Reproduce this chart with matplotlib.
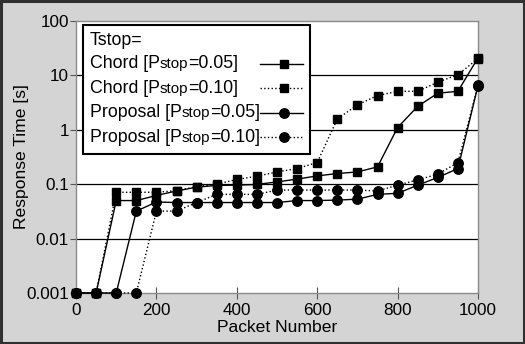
import matplotlib
matplotlib.use("Agg")
import matplotlib.pyplot as plt
from matplotlib.lines import Line2D
from matplotlib.offsetbox import AnchoredOffsetbox, DrawingArea, HPacker, TextArea, VPacker
from matplotlib.patches import Rectangle
from matplotlib.ticker import FixedLocator, NullLocator

plt.rcParams["font.family"] = ["Liberation Sans", "DejaVu Sans"]

packets = [0, 50, 100, 150, 200, 250, 300, 350, 400, 450, 500,
           550, 600, 650, 700, 750, 800, 850, 900, 950, 1000]

chord_005 = [0.001, 0.001, 0.05, 0.05, 0.062, 0.075, 0.088, 0.095, 0.096, 0.099, 0.11,
             0.124, 0.142, 0.157, 0.168, 0.208, 1.1, 2.7, 4.7, 5.1, 21]
chord_010 = [0.001, 0.001, 0.071, 0.071, 0.071, 0.076, 0.09, 0.1, 0.122, 0.14, 0.168,
             0.194, 0.25, 1.58, 2.87, 4.26, 5.1, 5.1, 7.5, 10.3, 20.4]
prop_005 = [0.001, 0.001, 0.001, 0.032, 0.047, 0.046, 0.046, 0.046, 0.046, 0.046, 0.046,
            0.05, 0.05, 0.051, 0.053, 0.065, 0.068, 0.096, 0.133, 0.194, 6.5]
prop_010 = [0.001, 0.001, 0.001, 0.001, 0.032, 0.032, 0.046, 0.065, 0.065, 0.065, 0.078,
            0.078, 0.078, 0.078, 0.078, 0.075, 0.096, 0.12, 0.153, 0.25, 6.6]

# (values, marker, linestyle, name, pstop)
series = [
    (chord_005, "s", "-", "Chord", "0.05"),
    (chord_010, "s", ":", "Chord", "0.10"),
    (prop_005, "o", "-", "Proposal", "0.05"),
    (prop_010, "o", ":", "Proposal", "0.10"),
]

y_ticks = [0.001, 0.01, 0.1, 1, 10, 100]
y_labels = ["0.001", "0.01", "0.1", "1", "10", "100"]
x_ticks = [0, 200, 400, 600, 800, 1000]

LEG_FS = 12.8
SUB_FS = 10.8
MS = {"s": 6.0, "o": 6.8}

fig = plt.figure(figsize=(5.25, 3.44), dpi=100, facecolor="#d4d4d4")
fig.patches.append(Rectangle((0.002, 0.004), 0.996, 0.992, transform=fig.transFigure,
                             fill=False, edgecolor="#303030", lw=2.2))
ax = fig.add_axes([0.1448, 0.1483, 0.7657, 0.7907])

for vals, mk, ls, name, p in series:
    ax.plot(packets, vals, color="black", marker=mk, linestyle=ls, lw=1.0,
            markersize=MS[mk], clip_on=False, zorder=3)

ax.set_yscale("log")
ax.set_ylim(0.001, 100)
ax.set_xlim(0, 1000)
ax.yaxis.set_major_locator(FixedLocator(y_ticks))
ax.yaxis.set_minor_locator(NullLocator())
ax.set_yticklabels(y_labels)
ax.set_xticks(x_ticks)
for y in y_ticks[1:-1]:
    ax.axhline(y, color="black", lw=0.9, zorder=1)

for s in ax.spines.values():
    s.set_color("#8a8a8a")
    s.set_linewidth(1.0)
ax.tick_params(axis="y", direction="out", length=4, color="#555555", labelsize=12.3, pad=1)
ax.tick_params(axis="x", direction="inout", length=8, color="#555555", labelsize=12.3, pad=3)

ax.set_xlabel("Packet Number", fontsize=12.6, labelpad=2)
ax.set_ylabel("Response Time [s]", fontsize=12.6, labelpad=-2)


# legend: label text on the left (with smaller "stop"), handle on the right
def handle_box(mk, ls):
    da = DrawingArea(31, 14, 0, 0)
    da.add_artist(Line2D([0, 31], [7, 7], color="black", lw=1.0, linestyle=ls))
    da.add_artist(Line2D([17.5], [7], color="black", marker=mk, markersize=MS[mk], lw=0))
    return da


row_width = 213
rows = [TextArea("Tstop=", textprops=dict(size=LEG_FS))]
for vals, mk, ls, name, p in series:
    label = HPacker(children=[
        TextArea(f"{name} [P", textprops=dict(size=LEG_FS)),
        TextArea("stop", textprops=dict(size=SUB_FS)),
        TextArea(f"={p}]", textprops=dict(size=LEG_FS)),
    ], align="baseline", pad=0, sep=0)
    rows.append(HPacker(children=[label, handle_box(mk, ls)], align="center",
                        pad=0, sep=0, width=row_width, mode="expand"))

box = VPacker(children=rows, align="left", pad=0, sep=3.6)
anchored = AnchoredOffsetbox(loc="upper left", child=box, pad=0.5, borderpad=0,
                             prop=dict(size=10), frameon=True,
                             bbox_to_anchor=(0.017, 0.985), bbox_transform=ax.transAxes)
anchored.patch.set_boxstyle("square", pad=0)
anchored.patch.set_edgecolor("black")
anchored.patch.set_linewidth(1.5)
anchored.set_zorder(5)
ax.add_artist(anchored)

fig.savefig("out.png", dpi=100, facecolor=fig.get_facecolor())
